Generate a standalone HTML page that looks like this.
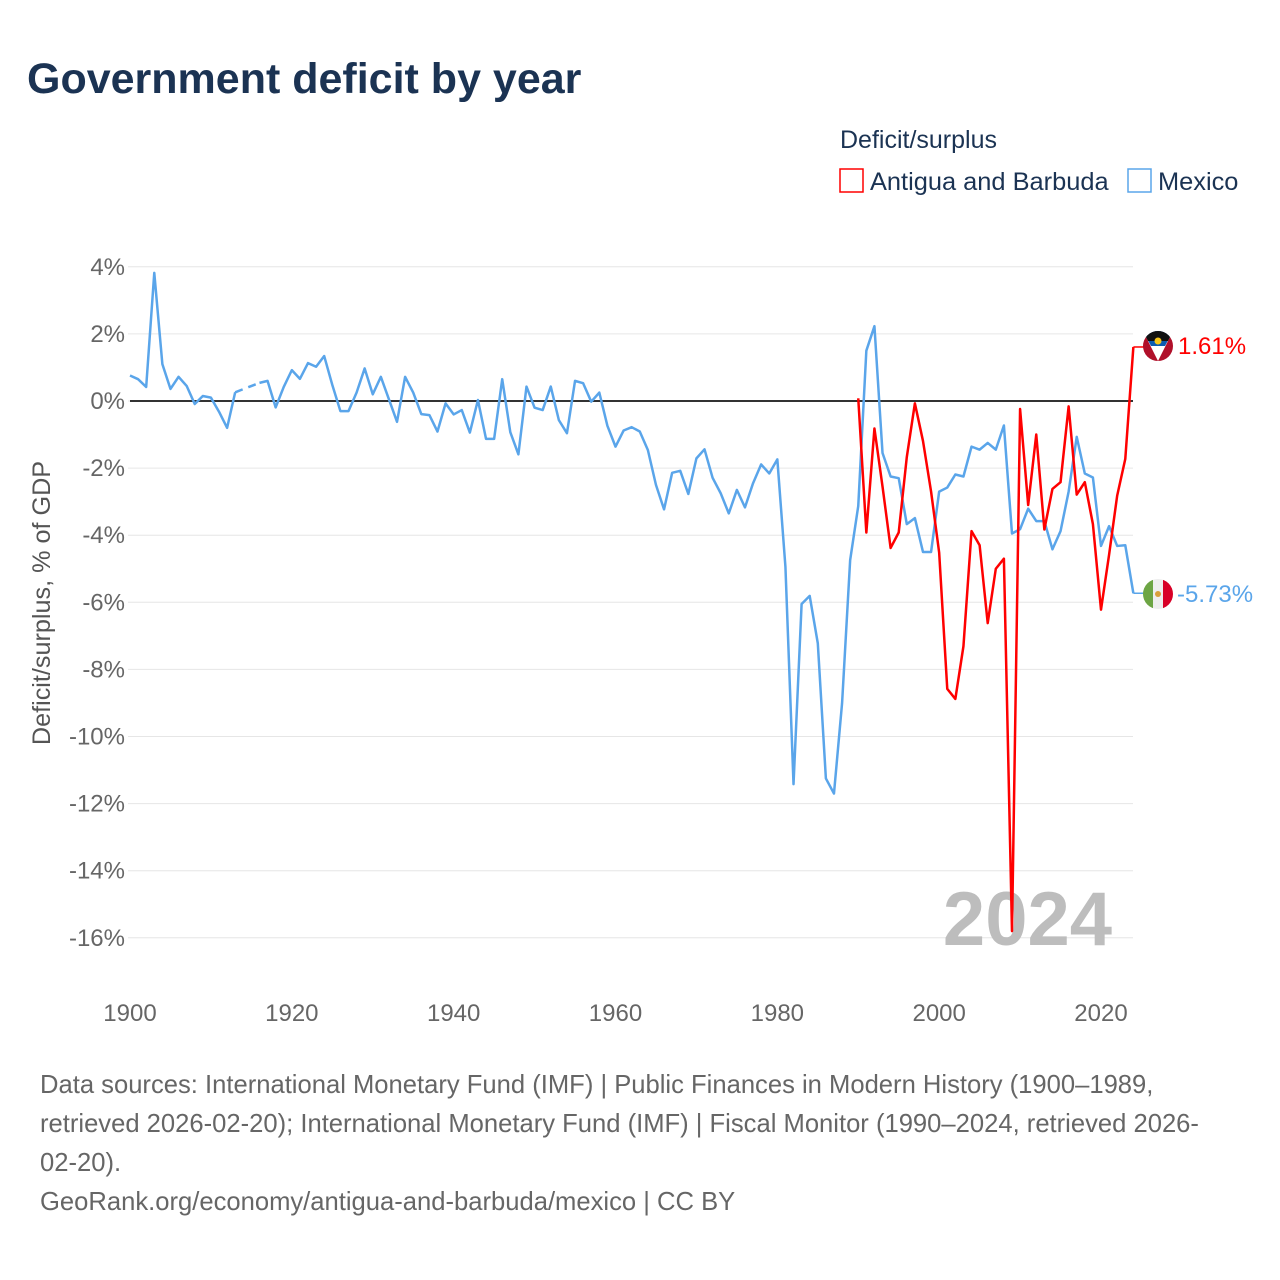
<!DOCTYPE html>
<html><head><meta charset="utf-8">
<style>
body{margin:0;background:#fff;font-family:"Liberation Sans",sans-serif;}
#root{position:relative;width:1280px;height:1280px;overflow:hidden;background:#fff;}
</style></head>
<body>
<div id="root">
<svg id="chart" width="1280" height="1280" viewBox="0 0 1280 1280">
<text x="27" y="93" font-size="43" font-weight="bold" fill="#1b3353">Government deficit by year</text>
<text x="840" y="148" font-size="25" fill="#1b3353">Deficit/surplus</text>
<g>
<rect x="840" y="169" width="23" height="23" fill="none" stroke="#ff0000" stroke-width="1.5"/>
<text x="870" y="190" font-size="25.4" fill="#1b3353">Antigua and Barbuda</text>
</g>
<g>
<rect x="1128" y="169" width="23" height="23" fill="none" stroke="#5aa5ea" stroke-width="1.5"/>
<text x="1158" y="190" font-size="25.4" fill="#1b3353">Mexico</text>
</g>
<g id="grid"></g>
<g id="yticks"></g>
<g id="xticks"></g>
<text transform="translate(50,603) rotate(-90)" text-anchor="middle" font-size="25.2" fill="#555">Deficit/surplus, % of GDP</text>
<text x="1112" y="945" text-anchor="end" font-size="76" font-weight="bold" fill="#bdbdbd">2024</text>
<line id="zeroline" x1="130" x2="1133" stroke="#333" stroke-width="2"/>
<g id="series"></g>
<g>
<clipPath id="c1"><circle cx="1158" cy="346" r="15"/></clipPath>
<g clip-path="url(#c1)">
<rect x="1143" y="331" width="30" height="30" fill="#b0102a"/>
<polygon points="1143,331 1173,331 1158,361" fill="#fff"/>
<polygon points="1143,331 1173,331 1165,346 1151,346" fill="#0a5bb0"/>
<polygon points="1143,331 1173,331 1168,341 1148,341" fill="#111"/>
<circle cx="1158" cy="341" r="3.5" fill="#f5c518"/>
</g></g>
<text x="1178" y="354" font-size="24" fill="#ff0000">1.61%</text>
<g>
<clipPath id="c2"><circle cx="1158" cy="594" r="15"/></clipPath>
<g clip-path="url(#c2)">
<rect x="1143" y="579" width="10" height="30" fill="#6da544"/>
<rect x="1153" y="579" width="10" height="30" fill="#eee"/>
<rect x="1163" y="579" width="10" height="30" fill="#d80027"/>
<circle cx="1158" cy="594" r="3" fill="#d9a03a"/>
</g></g>
<text x="1177" y="602" font-size="24" fill="#5aa5ea">-5.73%</text>
<g font-size="25.6" fill="#666">
<text x="40" y="1093">Data sources: International Monetary Fund (IMF) | Public Finances in Modern History (1900–1989,</text>
<text x="40" y="1132">retrieved 2026-02-20); International Monetary Fund (IMF) | Fiscal Monitor (1990–2024, retrieved 2026-</text>
<text x="40" y="1171">02-20).</text>
<text x="40" y="1210">GeoRank.org/economy/antigua-and-barbuda/mexico | CC BY</text>
</g>
</svg>
</div>
<script>
const yTicks=[4,2,0,-2,-4,-6,-8,-10,-12,-14,-16];
const xTicks=[1900,1920,1940,1960,1980,2000,2020];
const mexicoStart=1900;
const mexicoValues=[0.76,0.65,0.42,3.82,1.1,0.36,0.72,0.45,-0.09,0.15,0.1,-0.32,-0.8,0.26,null,null,0.54,0.6,-0.19,0.42,
0.92,0.66,1.13,1.02,1.34,0.48,-0.3,-0.3,0.25,0.97,0.2,0.72,0.05,-0.62,0.72,0.25,-0.39,-0.42,-0.91,-0.07,
-0.4,-0.27,-0.94,0.03,-1.13,-1.13,0.65,-0.93,-1.59,0.43,-0.2,-0.27,0.43,-0.57,-0.96,0.6,0.53,-0.02,0.25,-0.74,
-1.36,-0.88,-0.78,-0.91,-1.46,-2.5,-3.23,-2.14,-2.08,-2.77,-1.71,-1.44,-2.29,-2.75,-3.35,-2.65,-3.17,-2.45,-1.89,-2.16,
-1.74,-4.94,-11.42,-6.05,-5.81,-7.22,-11.25,-11.7,-9.01,-4.74,
-3.13,1.5,2.23,-1.55,-2.25,-2.3,-3.67,-3.49,-4.5,-4.5,-2.7,-2.58,-2.19,-2.25,-1.36,-1.45,-1.25,-1.45,-0.73,-3.95,
-3.82,-3.21,-3.58,-3.58,-4.42,-3.88,-2.7,-1.07,-2.16,-2.28,-4.32,-3.73,-4.32,-4.3,-5.73];
const antiguaStart=1990;
const antiguaValues=[0.08,-3.92,-0.82,-2.55,-4.38,-3.92,-1.67,-0.07,-1.19,-2.7,-4.52,-8.58,-8.88,-7.31,-3.88,-4.3,-6.62,-5.0,-4.7,-15.8,
-0.24,-3.1,-1.0,-3.83,-2.62,-2.42,-0.16,-2.79,-2.42,-3.67,-6.22,-4.58,-2.82,-1.73,1.61];

const NS='http://www.w3.org/2000/svg';
const X=yr=>130+(yr-1900)*(971/120);
const Y=v=>401-v*33.55;
function mk(tag,attrs,parent){const e=document.createElementNS(NS,tag);for(const k in attrs)e.setAttribute(k,attrs[k]);parent.appendChild(e);return e;}
const grid=document.getElementById('grid'),yt=document.getElementById('yticks'),xt=document.getElementById('xticks'),ser=document.getElementById('series');
yTicks.forEach(v=>{
  const l=mk('line',{x1:128,x2:1133,y1:Y(v),y2:Y(v),stroke:'#e6e6e6','stroke-width':1},grid);
  
  
  const t=mk('text',{x:125,y:Y(v)+8,'text-anchor':'end','font-size':24,fill:'#666'},yt);
  t.textContent=v+'%';
  
  
});
xTicks.forEach(yr=>{
  const t=mk('text',{x:X(yr),y:1021,'text-anchor':'middle','font-size':24,fill:'#666'},xt);
  t.textContent=yr;
  
  
});
const z=document.getElementById('zeroline');z.setAttribute('y1',Y(0));z.setAttribute('y2',Y(0));
function drawSeries(start,vals,color,name){
  let seg=[],prev=null;const segs=[],gaps=[];
  vals.forEach((v,i)=>{const yr=start+i;
    if(v===null){if(seg.length){segs.push(seg);seg=[];}}
    else{const p=[X(yr),Y(v)];if(!seg.length&&prev)gaps.push([prev,p]);seg.push(p);prev=p;}
  });
  if(seg.length)segs.push(seg);
  segs.forEach(s=>{
    const p=mk('polyline',{points:s.map(q=>q.join(',')).join(' '),fill:'none',stroke:color,'stroke-width':2.5,'stroke-linejoin':'round'},ser);
    
    
  });
  gaps.forEach(g=>{
    const p=mk('line',{x1:g[0][0],y1:g[0][1],x2:g[1][0],y2:g[1][1],stroke:color,'stroke-width':2.5,'stroke-dasharray':'8,6'},ser);
    
    
  });
  const last=prev;
  const c=mk('line',{x1:last[0],y1:last[1],x2:last[0]+12,y2:last[1],stroke:color,'stroke-width':1.5},ser);
  
  
}
drawSeries(mexicoStart,mexicoValues,'#5aa5ea','mexico');
drawSeries(antiguaStart,antiguaValues,'#ff0000','antigua');
</script>
</body></html>
